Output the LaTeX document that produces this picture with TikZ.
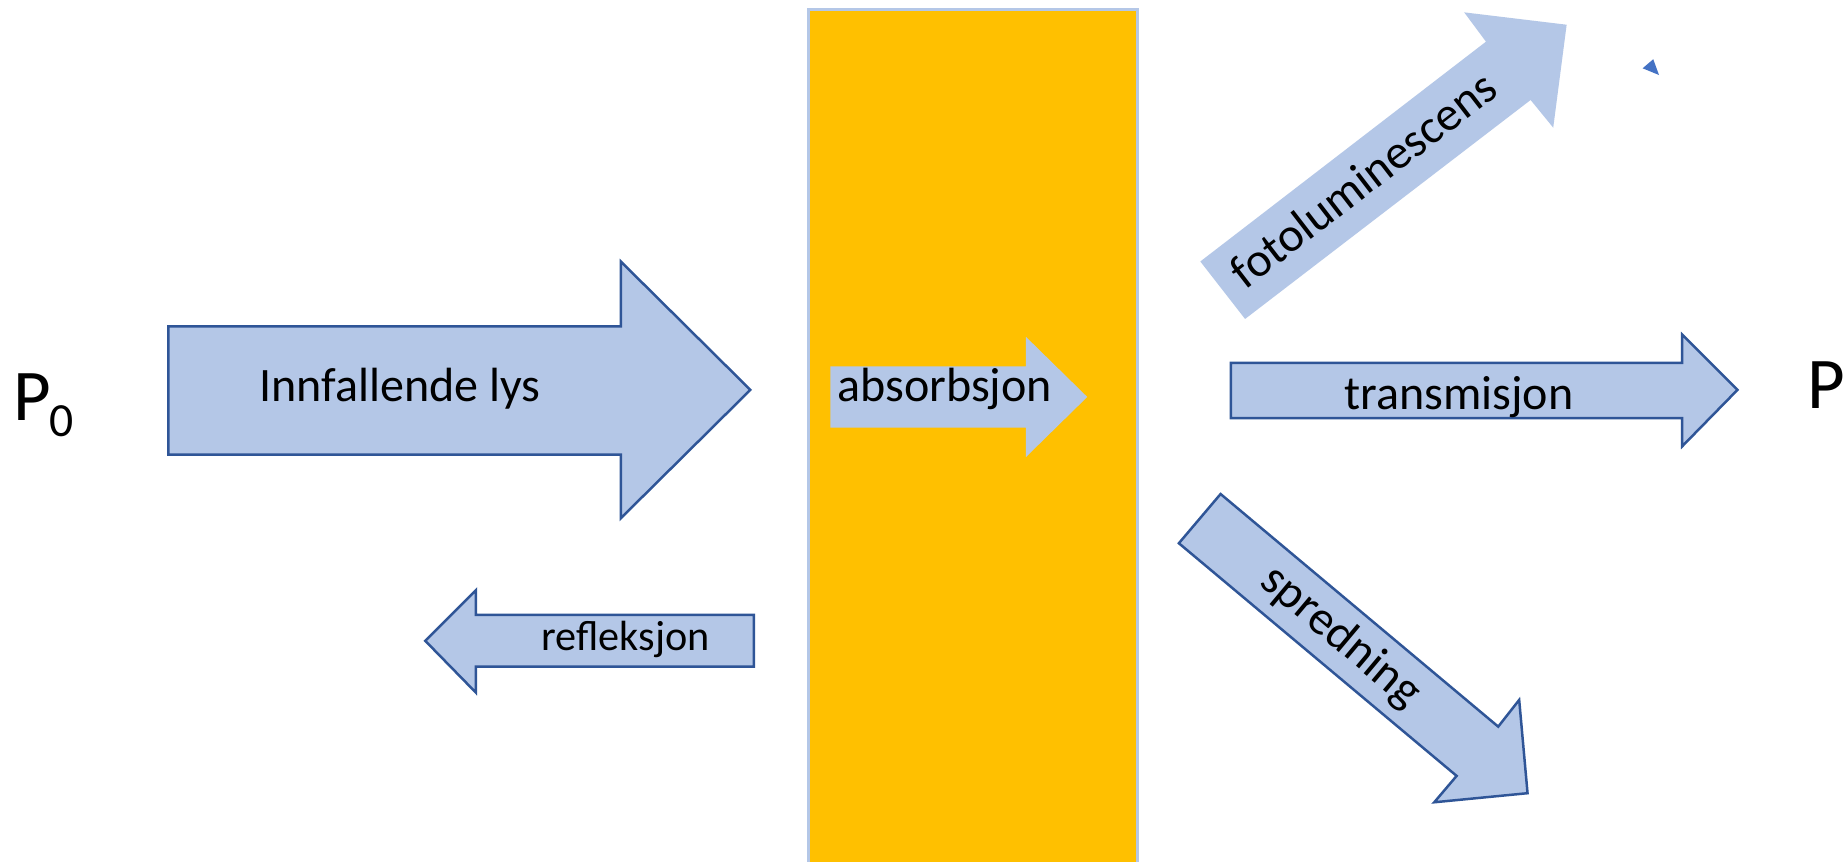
\documentclass[tikz,border=0pt]{standalone}
\usepackage{fontspec}
\setmainfont{Carlito}
\definecolor{arrowfill}{HTML}{B4C7E7}
\definecolor{arrowline}{HTML}{2F5597}
\definecolor{slabcol}{HTML}{FFC000}
\definecolor{markblue}{HTML}{4472C4}
\begin{document}
\begin{tikzpicture}[x=0.1mm,y=-0.1mm,
  blockarrow/.style={fill=arrowfill, draw=arrowline, line width=0.6pt, line join=miter},
  plainarrow/.style={fill=arrowfill},
  lbl/.style={font=\fontsize{11.6}{14}\selectfont, inner sep=0pt, anchor=base},
  smalllbl/.style={font=\fontsize{10.2}{12}\selectfont, inner sep=0pt, anchor=base},
  ptxt/.style={font=\fontsize{17.6}{20}\selectfont, inner sep=0pt, anchor=base west},
  subtxt/.style={font=\fontsize{11.5}{13}\selectfont, inner sep=0pt, anchor=base west}]
\useasboundingbox (0,0) rectangle (1568,731);
\fill[white] (0,0) rectangle (1568,731);
% sample slab
\draw[fill=slabcol, draw=arrowfill, line width=0.7pt] (686,8) rectangle (966,745);
% incident light
\draw[blockarrow] (143,277) -- (527,277) -- (527,222) -- (637,331) -- (527,440) -- (527,386) -- (143,386) -- cycle;
% absorption
\fill[plainarrow] (705,311) -- (871,311) -- (871,286) -- (923,337) -- (871,388) -- (871,363) -- (705,363) -- cycle;
% transmission
\draw[blockarrow] (1045,308) -- (1428,308) -- (1428,284) -- (1475,331) -- (1428,379) -- (1428,355) -- (1045,355) -- cycle;
% reflection
\draw[blockarrow] (640,522) -- (404,522) -- (404,501) -- (361,544) -- (404,588) -- (404,566) -- (640,566) -- cycle;
% photoluminescence
\fill[plainarrow] (1019,222) -- (1261.5,35.4) -- (1243,10.5) -- (1330,21) -- (1318.6,108.4) -- (1299.4,84.9) -- (1057,270.8) -- cycle;
% scattering
\draw[blockarrow] (1036.2,419.4) -- (1271.9,616.9) -- (1289.7,594.2) -- (1296.8,673.4) -- (1217.6,681.1) -- (1236.6,658.7) -- (1000.8,461.2) -- cycle;
% small triangle
\fill[markblue] (1394.5,58) -- (1403.5,50.3) -- (1408.4,63.7) -- cycle;
% labels
\node[lbl] (inn) at (339.5,341) {Innfallende lys};
\node[lbl] (abs) at (802,341) {absorbsjon};
\node[lbl] (trans) at (1238.5,347.5) {transmisjon};
\node[smalllbl] (refl) at (531,552.4) {refleksjon};
\node[lbl, anchor=center, rotate=37.6] (foto) at (1157,152) {fotoluminescens};
\node[lbl, anchor=center, rotate=-40] (spred) at (1138,541) {spredning};
\node[ptxt] (p0) at (11,357) {P};
\node[subtxt] (p0sub) at (41,371) {0};
\node[ptxt] (p1) at (1534,346.6) {P};
\end{tikzpicture}
\end{document}
